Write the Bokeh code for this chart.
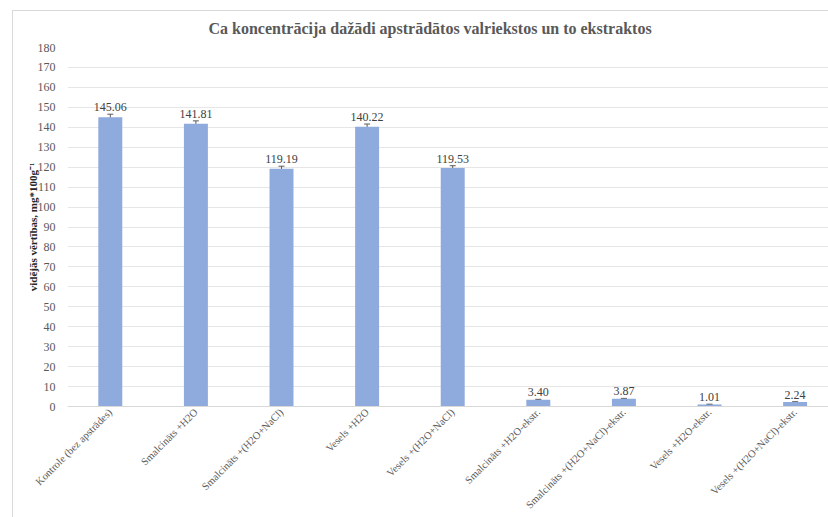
import math
from bokeh.plotting import figure
from bokeh.models import (ColumnDataSource, Range1d, FixedTicker, SingleIntervalTicker,
                          Whisker, LabelSet, TeeHead)
from bokeh.embed import file_html
from bokeh.resources import INLINE

categories = [
    "Kontrole (bez apstrādes)",
    "Smalcināts +H2O",
    "Smalcināts +(H2O+NaCl)",
    "Vesels +H2O",
    "Vesels +(H2O+NaCl)",
    "Smalcināts +H2O-ekstr.",
    "Smalcināts +(H2O+NaCl)-ekstr.",
    "Vesels +H2O-ekstr.",
    "Vesels +(H2O+NaCl)-ekstr.",
]
values = [145.06, 141.81, 119.19, 140.22, 119.53, 3.40, 3.87, 1.01, 2.24]
errors = [1.5, 1.4, 1.3, 1.4, 1.2, 0.2, 0.2, 0.15, 0.15]
value_labels = ["%.2f" % v for v in values]

title = "Ca koncentrācija dažādi apstrādātos valriekstos un to ekstraktos"
y_label = "vidējās vērtības, mg*100g⁻¹"

FONT = "Liberation Serif"
xs = list(range(len(categories)))
src = ColumnDataSource(dict(
    x=xs, top=values, lab=value_labels,
    upper=[v + e for v, e in zip(values, errors)],
    lower=[v - e for v, e in zip(values, errors)],
))

p = figure(width=828, height=517, output_backend="svg", toolbar_location=None,
           x_range=Range1d(-0.5, 8.39), y_range=Range1d(0, 180),
           min_border_left=67, min_border_right=0, min_border_top=47,
           min_border_bottom=111, title=title)
p.outline_line_color = None
p.background_fill_color = "white"
p.border_fill_color = None
p.styles = {
    "background": ("linear-gradient(#d9d9d9,#d9d9d9) 12px 10px / 1px 100% no-repeat, "
                   "linear-gradient(#d9d9d9,#d9d9d9) 12px 10px / 100% 1px no-repeat, "
                   "white"),
}

p.title.align = "left"
p.title.offset = 141
p.title.text_font = FONT
p.title.text_font_style = "bold"
p.title.text_font_size = "16px"
p.title.text_color = "#595959"
p.title.standoff = 21

p.vbar(x="x", top="top", width=0.28, source=src, fill_color="#8FAADC",
       line_color=None)

w = Whisker(source=src, base="x", upper="upper", lower="lower",
            line_color="#595959", line_width=1,
            upper_head=TeeHead(size=6, line_color="#595959", line_width=1),
            lower_head=TeeHead(size=6, line_color="#595959", line_width=1))
p.add_layout(w)

labels = LabelSet(source=src, x="x", y="upper", text="lab", text_align="center",
                  text_baseline="bottom", y_offset=3, text_font=FONT,
                  text_font_size="12px", text_color="#404040")
p.add_layout(labels)

p.xaxis.ticker = FixedTicker(ticks=xs)
p.xaxis.major_label_overrides = {i: c for i, c in enumerate(categories)}
p.xaxis.major_label_orientation = math.pi / 4
p.xaxis.major_label_text_font = FONT
p.xaxis.major_label_text_font_size = "10.5px"
p.xaxis.major_label_text_color = "#595959"
p.xaxis.axis_line_color = "#d9d9d9"
p.xaxis.major_tick_line_color = None
p.xaxis.minor_tick_line_color = None
p.xaxis.major_tick_out = 0
p.xaxis.major_tick_in = 0
p.xaxis.minor_tick_out = 0
p.xaxis.major_label_standoff = 4

p.yaxis.ticker = SingleIntervalTicker(interval=10)
p.yaxis.axis_line_color = None
p.yaxis.major_tick_line_color = None
p.yaxis.minor_tick_line_color = None
p.yaxis.major_tick_out = 0
p.yaxis.major_tick_in = 0
p.yaxis.minor_tick_out = 0
p.yaxis.major_label_text_font = FONT
p.yaxis.major_label_text_font_size = "12px"
p.yaxis.major_label_text_color = "#595959"
p.yaxis.major_label_standoff = 12
p.yaxis.axis_label = y_label
p.yaxis.axis_label_text_font = FONT
p.yaxis.axis_label_text_font_style = "bold"
p.yaxis.axis_label_text_font_size = "11px"
p.yaxis.axis_label_text_color = "#262626"
p.yaxis.axis_label_standoff = -4

p.xgrid.grid_line_color = None
p.ygrid.grid_line_color = "#e6e6e6"
p.ygrid.ticker = SingleIntervalTicker(interval=10)

open("out.html", "w").write(file_html(p, INLINE))
